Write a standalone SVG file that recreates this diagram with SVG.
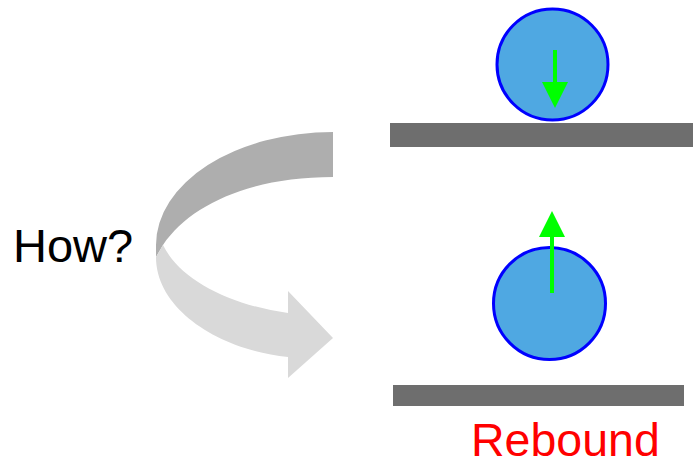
<svg xmlns="http://www.w3.org/2000/svg" width="693" height="466" viewBox="0 0 693 466">
<style>
.ball{fill:#4FA8E2;stroke:#0000FF;stroke-width:3}
.plat{fill:#6E6E6E}
.vec{fill:#00FF00}
.lbl{font-family:"Liberation Sans",Arial,sans-serif}
</style>
<rect width="693" height="466" fill="#FFFFFF"/>
<g id="curved-arrow">
<path d="M 333 132 A 177 113 0 0 0 156 245 L 156 257 L 163 245 C 190 205 250 177 333 177 Z" fill="#AEAEAE"/>
<path d="M 156 257 C 156 310 220 350 288 357 L 288 378 L 333 338 L 288 291 L 288 313 C 230 305 180 280 163 245 Z" fill="#D9D9D9"/>
</g>
<g id="how-label">
<text class="lbl" x="13" y="262" font-size="47" fill="#000000">How?</text>
</g>
<g id="top-platform">
<rect class="plat" x="390" y="123" width="303" height="24"/>
</g>
<g id="top-ball">
<circle class="ball" cx="552.5" cy="64.5" r="55.5"/>
<rect class="vec" x="553" y="50" width="4" height="33"/>
<polygon class="vec" points="542,82 568,82 555,108"/>
</g>
<g id="bottom-ball">
<circle class="ball" cx="549.5" cy="303.5" r="56"/>
<rect class="vec" x="550" y="236" width="4" height="57"/>
<polygon class="vec" points="539,237 565,237 552,211"/>
</g>
<g id="bottom-platform">
<rect class="plat" x="393" y="385" width="291" height="21"/>
</g>
<g id="rebound-label">
<text class="lbl" x="471" y="456" font-size="46.5" fill="#FF0000">Rebound</text>
</g>
</svg>
